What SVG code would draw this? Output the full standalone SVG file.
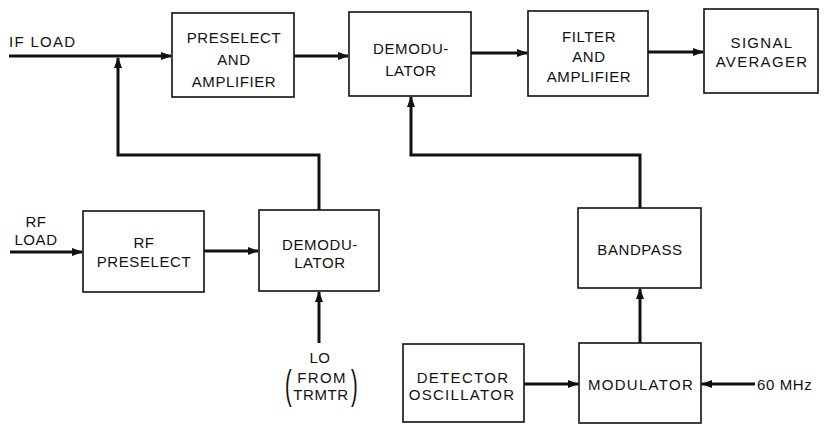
<svg xmlns="http://www.w3.org/2000/svg" width="824" height="424" viewBox="0 0 824 424">
<style>
.box{fill:#fff;stroke:#111;stroke-width:1.6}
.c{fill:none;stroke:#111;stroke-width:3}
text{font-family:"Liberation Sans",Arial,sans-serif;font-size:15px;fill:#111;letter-spacing:0.6px}
.m{text-anchor:middle}
.w{letter-spacing:1.3px}
</style>
<defs>
<marker id="ah" markerUnits="userSpaceOnUse" markerWidth="11" markerHeight="8" refX="10" refY="4" orient="auto">
<path d="M0,0 L11,4 L0,8 z" fill="#111"/>
</marker>
</defs>
<g id="connectors">
<path class="c" d="M9 56 H171" marker-end="url(#ah)"/>
<path class="c" d="M294 56 H348" marker-end="url(#ah)"/>
<path class="c" d="M471 53 H527" marker-end="url(#ah)"/>
<path class="c" d="M648 52 H703" marker-end="url(#ah)"/>
<path class="c" d="M319 210 V155 H118 V58" marker-end="url(#ah)"/>
<path class="c" d="M640 208 V155 H411 V97" marker-end="url(#ah)"/>
<path class="c" d="M10 252 H82" marker-end="url(#ah)"/>
<path class="c" d="M204 251 H258" marker-end="url(#ah)"/>
<path class="c" d="M319 343 V292" marker-end="url(#ah)"/>
<path class="c" d="M640 343 V289" marker-end="url(#ah)"/>
<path class="c" d="M524 384 H578" marker-end="url(#ah)"/>
<path class="c" d="M755 384 H702" marker-end="url(#ah)"/>
</g>
<g id="if-load"><text x="9" y="47" class="w">IF LOAD</text></g>
<g id="preselect-amp">
<rect class="box" x="172" y="13" width="122" height="84"/>
<text class="m" x="234" y="43">PRESELECT</text>
<text class="m" x="234" y="65">AND</text>
<text class="m" x="234" y="87">AMPLIFIER</text>
</g>
<g id="demod-top">
<rect class="box" x="349" y="12" width="122" height="84"/>
<text class="m" x="411" y="54">DEMODU-</text>
<text class="m" x="411" y="76">LATOR</text>
</g>
<g id="filter-amp">
<rect class="box" x="528" y="11" width="120" height="85"/>
<text class="m" x="589" y="42">FILTER</text>
<text class="m" x="589" y="62">AND</text>
<text class="m" x="589" y="82">AMPLIFIER</text>
</g>
<g id="signal-averager">
<rect class="box" x="704" y="9" width="114" height="84"/>
<text class="m w" x="762" y="48">SIGNAL</text>
<text class="m w" x="762" y="67">AVERAGER</text>
</g>
<g id="rf-load">
<text class="m" x="36" y="227">RF</text>
<text class="m" x="36" y="245">LOAD</text>
</g>
<g id="rf-preselect">
<rect class="box" x="83" y="211" width="121" height="81"/>
<text class="m" x="144" y="248">RF</text>
<text class="m" x="144" y="267">PRESELECT</text>
</g>
<g id="demod-low">
<rect class="box" x="259" y="210" width="120" height="81"/>
<text class="m" x="320" y="250">DEMODU-</text>
<text class="m" x="320" y="268">LATOR</text>
</g>
<g id="lo">
<text class="m" x="320" y="363">LO</text>
<text class="m w" x="322" y="383">FROM</text>
<text class="m" x="321" y="400">TRMTR</text>
<text transform="translate(285,399) scale(1,2)" style="font-size:20px">(</text>
<text transform="translate(351,399) scale(1,2)" style="font-size:20px">)</text>
</g>
<g id="bandpass">
<rect class="box" x="578" y="208" width="123" height="80"/>
<text class="m" x="640" y="255">BANDPASS</text>
</g>
<g id="detector-osc">
<rect class="box" x="403" y="344" width="121" height="78"/>
<text class="m w" x="463" y="383">DETECTOR</text>
<text class="m w" x="462" y="400">OSCILLATOR</text>
</g>
<g id="modulator">
<rect class="box" x="579" y="343" width="122" height="80"/>
<text class="m w" x="641" y="390">MODULATOR</text>
</g>
<g id="mhz"><text x="757" y="390">60 MHz</text></g>
</svg>
